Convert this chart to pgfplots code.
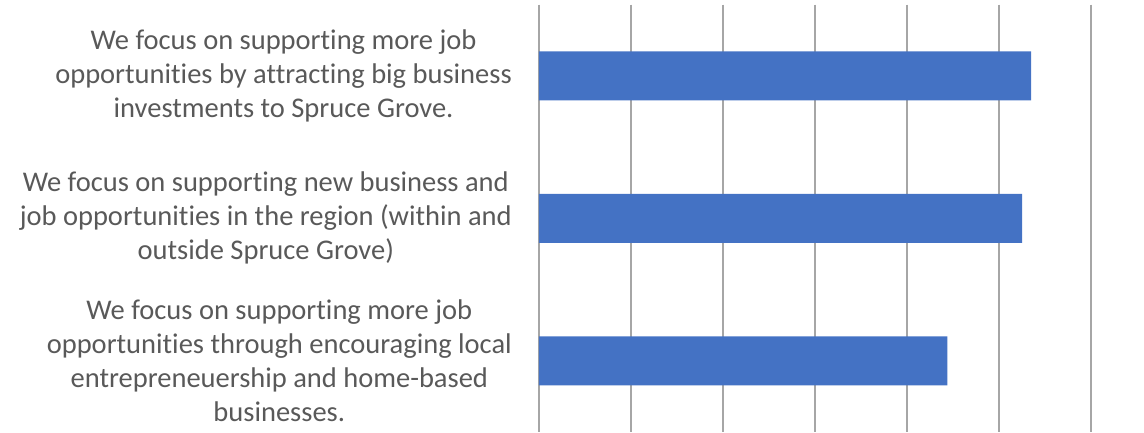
\documentclass[border=0pt]{standalone}
\usepackage{fontspec}
\setmainfont[Ligatures=NoCommon]{Carlito}
\usepackage{pgfplots}
\pgfplotsset{compat=1.18}
\definecolor{barblue}{HTML}{4472C4}
\definecolor{labelgray}{HTML}{595959}
\definecolor{gridgray}{HTML}{A6A6A6}
\begin{document}
\begin{tikzpicture}
\path[use as bounding box] (0,0) rectangle (1144pt,432pt);
\begin{axis}[
 at={(539pt,0pt)}, anchor=south west,
 scale only axis, width=552pt, height=427.5pt,
 xbar, bar width=49pt,
 xmin=0, xmax=6, ymin=-0.5, ymax=2.5, y dir=reverse,
 xtick={0,1,2,3,4,5,6}, xticklabel=\empty,
 xmajorgrids, major grid style={gridgray, line width=1.2pt},
 ytick={0,1,2},
 yticklabels={{We focus on supporting more job\\opportunities by attracting big business\\investments to Spruce Grove.},
 {We focus on supporting new business and\\job opportunities in the region (within and\\outside Spruce Grove)},
 {We focus on supporting more job\\opportunities through encouraging local\\entrepreneuership and home-based\\businesses.}},
 yticklabel style={align=center, font=\fontsize{28.5}{34}\selectfont, text=labelgray, inner sep=0pt, xshift=-27pt},
 major tick length=0pt,
 axis line style={draw=none},
 clip=false,
]
\addplot[fill=barblue, draw=none] coordinates {(5.35,0) (5.25,1) (4.44,2)};
\end{axis}
\end{tikzpicture}
\end{document}
